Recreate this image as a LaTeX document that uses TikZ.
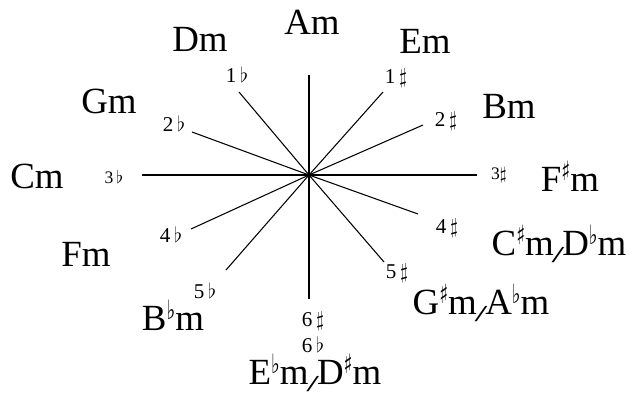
\documentclass[tikz,border=0pt]{standalone}
\usepackage{fontspec}
\setmainfont{Liberation Serif}
\newfontfamily\symfont{DejaVu Sans}
\newcommand{\shp}{\raisebox{0.3em}{\scalebox{0.5}[0.72]{\symfont ♯}}}
\newcommand{\flt}{\raisebox{0.3em}{\scalebox{0.5}[0.72]{\symfont ♭}}}
\newcommand{\chslash}{\kern-0.06em\raisebox{-0.18em}{\scalebox{1.25}[0.62]{/}}\kern-0.06em}

\begin{document}
\begin{tikzpicture}[
  x=0.02cm, y=-0.02cm,
  spoke/.style={line width=0.6pt},
  chord/.style={font=\fontsize{21}{24}\selectfont, inner sep=0pt},
  keysig/.style={font=\fontsize{12}{14}\selectfont, inner sep=0pt},
  smallsig/.style={font=\fontsize{10}{12}\selectfont, inner sep=0pt},
]
  \useasboundingbox (0,0) rectangle (639,400);

  % spokes
  \coordinate (c)  at (309,175);
  \coordinate (k0) at (309,75);
  \coordinate (s1) at (383,92);
  \coordinate (s2) at (423,125);
  \coordinate (s3) at (477,175);
  \coordinate (s4) at (418,214);
  \coordinate (s5) at (384,262);
  \coordinate (k6) at (309,299);
  \coordinate (f5) at (226,270);
  \coordinate (f4) at (191,229);
  \coordinate (f3) at (142,175);
  \coordinate (f2) at (192,132);
  \coordinate (f1) at (239,92);
  \foreach \e in {k0,s1,s2,s3,s4,s5,k6,f5,f4,f3,f2,f1}
    \draw[spoke] (c) -- (\e);

  % key signatures
  \node[keysig]   (n1s) at (396,78)  {1\,$\sharp$};
  \node[keysig]   (n2s) at (446,121) {2\,$\sharp$};
  \node[smallsig] (n3s) at (499,175) {3$\sharp$};
  \node[keysig]   (n4s) at (447,228) {4\,$\sharp$};
  \node[keysig]   (n5s) at (397,273) {5\,$\sharp$};
  \node[keysig]   (n6s) at (313,321) {6\,$\sharp$};
  \node[keysig]   (n6f) at (313,345) {6\,$\flat$};
  \node[keysig]   (n5f) at (205,291) {5\,$\flat$};
  \node[keysig]   (n4f) at (171,235) {4\,$\flat$};
  \node[smallsig] (n3f) at (114,177) {3\,$\flat$};
  \node[keysig]   (n2f) at (174,124) {2\,$\flat$};
  \node[keysig]   (n1f) at (237,75)  {1\,$\flat$};

  % minor keys
  \node[chord] (am)  at (312,22)  {Am};
  \node[chord] (em)  at (425,41)  {Em};
  \node[chord] (bm)  at (509,106) {Bm};
  \node[chord] (fsm) at (570,176) {F\shp m};
  \node[chord] (csm) at (559,244) {C\shp m\chslash D\flt m};
  \node[chord] (gsm) at (481,303) {G\shp m\chslash A\flt m};
  \node[chord] (ebm) at (315,373) {E\flt m\chslash D\shp m};
  \node[chord] (bbm) at (173,315) {B\flt m};
  \node[chord] (fm)  at (86,254)  {Fm};
  \node[chord] (cm)  at (37,176)  {Cm};
  \node[chord] (gm)  at (109,101) {Gm};
  \node[chord] (dm)  at (200,39)  {Dm};
\end{tikzpicture}
\end{document}
